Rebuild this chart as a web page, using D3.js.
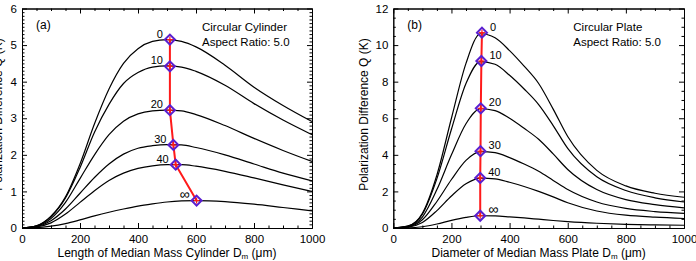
<!DOCTYPE html>
<html>
<head>
<meta charset="utf-8">
<script src="https://cdn.jsdelivr.net/npm/d3@7"></script>
<style>
  body { margin: 0; background: #fff; }
  svg { display: block; font-family: "Liberation Sans", Arial, Helvetica, sans-serif; }
  .axis path, .axis line { stroke: #000; stroke-width: 1; }
  .axis text { font-size: 11.5px; fill: #000; }
  .curve { fill: none; stroke: #000; stroke-width: 1.2; }
  .track { fill: none; stroke: #ff1a1a; stroke-width: 2; }
  .diamond { fill: none; stroke: #5a1fd0; stroke-width: 2; }
  .plus { stroke: #ff1a1a; stroke-width: 1.2; }
</style>
</head>
<body>
<div class="container"></div>
<script>
// median mass size grid (micron) shared by every curve
var sizes = [0, 50, 100, 150, 200, 250, 300, 350, 400, 450, 500, 550, 600, 700, 800, 900, 1000];
var curveLabels = ['0', '10', '20', '30', '40', '\u221e'];

// (a) circular cylinder, polarization difference Q (K)
var cyl0 = [0, 0.06, 0.32, 0.85, 1.75, 2.85, 3.8, 4.5, 4.9, 5.1, 5.15, 5.1, 4.95, 4.45, 3.85, 3.35, 2.91];
var cyl10 = [0, 0.06, 0.31, 0.82, 1.65, 2.62, 3.38, 3.95, 4.25, 4.4, 4.43, 4.4, 4.28, 3.9, 3.4, 2.95, 2.55];
var cyl20 = [0, 0.05, 0.26, 0.7, 1.35, 2.0, 2.55, 2.92, 3.12, 3.2, 3.22, 3.2, 3.1, 2.8, 2.45, 2.12, 1.82];
var cyl30 = [0, 0.04, 0.2, 0.52, 0.95, 1.38, 1.75, 2.02, 2.18, 2.25, 2.28, 2.27, 2.2, 2.0, 1.75, 1.5, 1.29];
var cyl40 = [0, 0.03, 0.14, 0.38, 0.7, 1.02, 1.3, 1.5, 1.63, 1.7, 1.73, 1.73, 1.69, 1.55, 1.37, 1.18, 1.0];
var cylInf = [0, 0.01, 0.05, 0.12, 0.22, 0.33, 0.43, 0.52, 0.6, 0.66, 0.71, 0.74, 0.75, 0.72, 0.65, 0.56, 0.47];
var cylPeakD = [510, 510, 510, 522, 530, 602];
var cylPeakQ = [5.15, 4.42, 3.22, 2.27, 1.73, 0.75];

// (b) circular plate
var pl0 = [0, 0.1, 0.8, 2.9, 6.0, 9.0, 10.62, 10.4, 9.7, 8.85, 7.9, 6.5, 5.0, 3.15, 2.3, 1.9, 1.68];
var pl10 = [0, 0.1, 0.75, 2.7, 5.4, 7.9, 9.1, 8.95, 8.35, 7.6, 6.75, 5.6, 4.35, 2.8, 2.05, 1.65, 1.42];
var pl20 = [0, 0.08, 0.6, 2.1, 4.0, 5.7, 6.52, 6.42, 6.0, 5.45, 4.85, 4.05, 3.2, 2.1, 1.55, 1.28, 1.1];
var pl30 = [0, 0.06, 0.45, 1.45, 2.65, 3.7, 4.18, 4.12, 3.85, 3.5, 3.1, 2.6, 2.1, 1.42, 1.07, 0.9, 0.8];
var pl40 = [0, 0.04, 0.3, 0.95, 1.75, 2.42, 2.73, 2.69, 2.5, 2.27, 2.0, 1.7, 1.38, 0.93, 0.7, 0.59, 0.52];
var plInf = [0, 0.01, 0.07, 0.22, 0.42, 0.58, 0.67, 0.66, 0.61, 0.55, 0.48, 0.41, 0.35, 0.26, 0.2, 0.17, 0.15];
var plPeakD = [305, 303, 301, 300, 299, 299];
var plPeakQ = [10.68, 9.13, 6.54, 4.2, 2.74, 0.67];

var xTicks = [0, 200, 400, 600, 800, 1000];
var cylYTicks = [0, 1, 2, 3, 4, 5, 6];
var plYTicks = [0, 2, 4, 6, 8, 10, 12];

var WIDTH = 696, HEIGHT = 261;
var TOP = 8.5, PLOT_H = 219.5;

var translate = function (x, y) {
    return 'translate(' + x + ',' + y + ')';
};

var panels = [
    {
        left: 22, width: 290, tag: '(a)',
        title: 'Circular Cylinder',
        xTitle: 'Length of Median Mass Cylinder D',
        yMax: 6, yTicks: cylYTicks, yMinor: 0.1,
        series: [cyl0, cyl10, cyl20, cyl30, cyl40, cylInf],
        peakD: cylPeakD, peakQ: cylPeakQ, labelSide: 'left'
    },
    {
        left: 393.3, width: 290.7, tag: '(b)',
        title: 'Circular Plate',
        xTitle: 'Diameter of Median Mass Plate D',
        yMax: 12, yTicks: plYTicks, yMinor: 0.5,
        series: [pl0, pl10, pl20, pl30, pl40, plInf],
        peakD: plPeakD, peakQ: plPeakQ, labelSide: 'right'
    }
];

var svg = d3.select('.container').append('svg')
    .attr('width', WIDTH)
    .attr('height', HEIGHT);

var fmt = d3.format('d');

var notMajor = function (majors) {
    return function (v) {
        return !majors.some(function (m) { return Math.abs(m - v) < 1e-6; });
    };
};

var drawAxes = function (g, x, y, p) {
    var w = p.width;
    var xMinor = d3.range(0, 1001, 50).filter(notMajor(xTicks));
    var yMinor = d3.range(0, p.yMax + 1e-6, p.yMinor).filter(notMajor(p.yTicks));

    // bottom / top
    g.append('g').attr('class', 'axis').attr('transform', translate(0, PLOT_H))
        .call(d3.axisBottom(x).tickValues(xTicks).tickSize(-5).tickSizeOuter(0).tickPadding(7).tickFormat(fmt));
    g.append('g').attr('class', 'axis').attr('transform', translate(0, PLOT_H))
        .call(d3.axisBottom(x).tickValues(xMinor).tickSize(-2.5).tickSizeOuter(0).tickFormat(''));
    g.append('g').attr('class', 'axis')
        .call(d3.axisTop(x).tickValues(xTicks).tickSize(-5).tickSizeOuter(0).tickFormat(''));
    g.append('g').attr('class', 'axis')
        .call(d3.axisTop(x).tickValues(xMinor).tickSize(-2.5).tickSizeOuter(0).tickFormat(''));

    // left / right
    g.append('g').attr('class', 'axis')
        .call(d3.axisLeft(y).tickValues(p.yTicks).tickSize(-5).tickSizeOuter(0).tickPadding(5).tickFormat(fmt));
    g.append('g').attr('class', 'axis')
        .call(d3.axisLeft(y).tickValues(yMinor).tickSize(-2.5).tickSizeOuter(0).tickFormat(''));
    g.append('g').attr('class', 'axis').attr('transform', translate(w, 0))
        .call(d3.axisRight(y).tickValues(p.yTicks).tickSize(-5).tickSizeOuter(0).tickFormat(''));
    g.append('g').attr('class', 'axis').attr('transform', translate(w, 0))
        .call(d3.axisRight(y).tickValues(yMinor).tickSize(-2.5).tickSizeOuter(0).tickFormat(''));
};

var drawPanel = function (p) {
    var x = d3.scaleLinear().domain([0, 1000]).range([0, p.width]);
    var y = d3.scaleLinear().domain([0, p.yMax]).range([PLOT_H, 0]);
    var g = svg.append('g').attr('transform', translate(p.left, TOP));

    var line = d3.line()
        .x(function (d, i) { return x(sizes[i]); })
        .y(function (d) { return y(d); })
        .curve(d3.curveMonotoneX);

    g.selectAll('.curve')
        .data(p.series)
        .enter().append('path')
        .attr('class', 'curve')
        .attr('d', line);

    var peaks = p.peakD.map(function (d, i) {
        return {d: d, q: p.peakQ[i], label: curveLabels[i]};
    });

    g.append('path')
        .datum(peaks)
        .attr('class', 'track')
        .attr('d', d3.line()
            .x(function (d) { return x(d.d); })
            .y(function (d) { return y(d.q); }));

    var mark = g.selectAll('.mark')
        .data(peaks)
        .enter().append('g')
        .attr('class', 'mark')
        .attr('transform', function (d) { return translate(x(d.d), y(d.q)); });

    mark.append('line').attr('class', 'plus').attr('x1', -3).attr('x2', 3);
    mark.append('line').attr('class', 'plus').attr('y1', -3).attr('y2', 3);
    mark.append('path')
        .attr('class', 'diamond')
        .attr('d', d3.symbol(d3.symbolSquare, 50))
        .attr('transform', 'rotate(45)');

    mark.append('text')
        .attr('x', p.labelSide === 'left' ? -7 : 8)
        .attr('y', -2)
        .attr('text-anchor', p.labelSide === 'left' ? 'end' : 'start')
        .style('font-size', function (d) { return d.label === '\u221e' ? '14px' : '11px'; })
        .text(function (d) { return d.label; });

    drawAxes(g, x, y, p);

    g.append('text')
        .attr('x', 14).attr('y', 20)
        .style('font-size', '12px')
        .text(p.tag);

    g.append('text')
        .attr('x', 180).attr('y', 22.5)
        .style('font-size', '11.5px')
        .text(p.title);
    g.append('text')
        .attr('x', 180).attr('y', 37.5)
        .style('font-size', '11.5px')
        .text('Aspect Ratio: 5.0');

    var xt = g.append('text')
        .attr('x', p.width / 2).attr('y', 248.5)
        .attr('text-anchor', 'middle')
        .style('font-size', '12px');
    xt.append('tspan').text(p.xTitle);
    xt.append('tspan').attr('dy', 2).style('font-size', '8px').text('m');
    xt.append('tspan').attr('dy', -2).text(' (\u03bcm)');

    g.append('text')
        .attr('transform', translate(p.labelSide === 'left' ? -20 : -25.5, 106) + ' rotate(-90)')
        .attr('text-anchor', 'middle')
        .style('font-size', '12px')
        .text('Polarization Difference Q (K)');
};

panels.forEach(drawPanel);
</script>
</body>
</html>
